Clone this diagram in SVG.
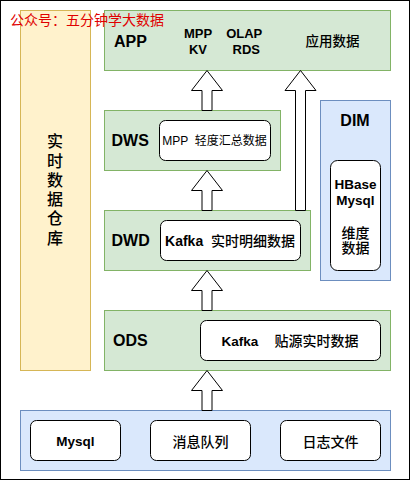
<svg xmlns="http://www.w3.org/2000/svg" width="411" height="481" viewBox="0 0 411 481">
<style>
text{font-family:"Liberation Sans","Noto Sans CJK SC",sans-serif;fill:#000;text-anchor:middle;dominant-baseline:central}
.b{font-weight:bold}
.m{font-weight:500}
.green{fill:#d5e8d4;stroke:#82b366;stroke-width:1}
.blue{fill:#dae8fc;stroke:#6c8ebf;stroke-width:1}
.yellow{fill:#fff2cc;stroke:#d6b656;stroke-width:1}
.inner{fill:#fff;stroke:#000;stroke-width:1}
.arrow{fill:#fff;stroke:#000;stroke-width:1;stroke-linejoin:miter}
.layer{font-size:16px;font-weight:bold;text-anchor:start}
</style>
<rect x="0" y="0" width="411" height="481" fill="#fff"/>
<rect x="0.5" y="0.5" width="409" height="479" fill="none" stroke="#000" stroke-width="1"/>

<g id="warehouse">
<rect class="yellow" x="20.5" y="10.5" width="70" height="360"/>
<text class="m" x="55" y="141.7" font-size="16">实</text>
<text class="m" x="55" y="161" font-size="16">时</text>
<text class="m" x="55" y="180.3" font-size="16">数</text>
<text class="m" x="55" y="199.6" font-size="16">据</text>
<text class="m" x="55" y="218.9" font-size="16">仓</text>
<text class="m" x="55" y="238.2" font-size="16">库</text>
</g>

<g id="app">
<rect class="green" x="104.5" y="10.5" width="286" height="60"/>
<text class="layer" x="114" y="41">APP</text>
<text class="b" x="198" y="33.3" font-size="13">MPP</text>
<text class="b" x="198" y="49.3" font-size="13">KV</text>
<text class="b" x="244.2" y="33.3" font-size="13">OLAP</text>
<text class="b" x="246.3" y="49.3" font-size="13">RDS</text>
<text class="m" x="332.5" y="41.7" font-size="13.5">应用数据</text>
</g>

<g id="dws">
<rect class="green" x="104.5" y="110.5" width="176" height="60"/>
<text class="layer" x="111.5" y="140.5">DWS</text>
<rect class="inner" x="159.5" y="120.5" width="111" height="40" rx="6" ry="6"/>
<text x="214.5" y="140.7" font-size="12" xml:space="preserve">MPP  轻度汇总数据</text>
</g>

<g id="dwd">
<rect class="green" x="104.5" y="210.5" width="206" height="60"/>
<text class="layer" x="111.5" y="240.5">DWD</text>
<rect class="inner" x="160.5" y="220.5" width="140" height="40" rx="6" ry="6"/>
<text x="230" y="241" font-size="14" xml:space="preserve"><tspan class="b">Kafka</tspan>  <tspan class="m">实时明细数据</tspan></text>
</g>

<g id="dim">
<rect class="blue" x="320.5" y="100.5" width="70" height="180"/>
<text class="b" x="355" y="120.7" font-size="16">DIM</text>
<rect class="inner" x="330.5" y="160.5" width="50" height="110" rx="7" ry="7"/>
<text class="b" x="355.5" y="184" font-size="13.5">HBase</text>
<text class="b" x="355.5" y="200" font-size="13.5">Mysql</text>
<text class="m" x="355.5" y="232.7" font-size="14">维度</text>
<text class="m" x="355.5" y="248.3" font-size="14">数据</text>
</g>

<g id="ods">
<rect class="green" x="104.5" y="310.5" width="286" height="60"/>
<text class="layer" x="113" y="340.7">ODS</text>
<rect class="inner" x="200.5" y="320.5" width="180" height="40" rx="6" ry="6"/>
<text class="b" x="239.8" y="341" font-size="13.5">Kafka</text>
<text class="m" x="316.6" y="341" font-size="14">贴源实时数据</text>
</g>

<g id="source">
<rect class="blue" x="20.5" y="410.5" width="370" height="60"/>
<rect class="inner" x="30.5" y="420.5" width="90" height="40" rx="6" ry="6"/>
<text class="b" x="75.5" y="441.5" font-size="13.5">Mysql</text>
<rect class="inner" x="150.5" y="420.5" width="100" height="40" rx="6" ry="6"/>
<text class="m" x="200.5" y="441.5" font-size="14">消息队列</text>
<rect class="inner" x="280.5" y="420.5" width="100" height="40" rx="6" ry="6"/>
<text class="m" x="330.5" y="441.5" font-size="14">日志文件</text>
</g>

<g id="connectors">
<polygon class="arrow" points="207,70.5 222.5,90.5 212,90.5 212,110.5 202,110.5 202,90.5 191.5,90.5"/>
<polygon class="arrow" points="207,170.5 222.5,190.5 212,190.5 212,210.5 202,210.5 202,190.5 191.5,190.5"/>
<polygon class="arrow" points="300.5,70.5 316,90.5 305.5,90.5 305.5,210.5 295.5,210.5 295.5,90.5 285,90.5"/>
<polygon class="arrow" points="207,270.5 222.5,290.5 212,290.5 212,310.5 202,310.5 202,290.5 191.5,290.5"/>
<polygon class="arrow" points="207,370.5 222.5,390.5 212,390.5 212,410.5 202,410.5 202,390.5 191.5,390.5"/>
</g>

<g id="watermark">
<text x="10" y="20" font-size="14" style="fill:#e00000;text-anchor:start">公众号：五分钟学大数据</text>
</g>
</svg>
